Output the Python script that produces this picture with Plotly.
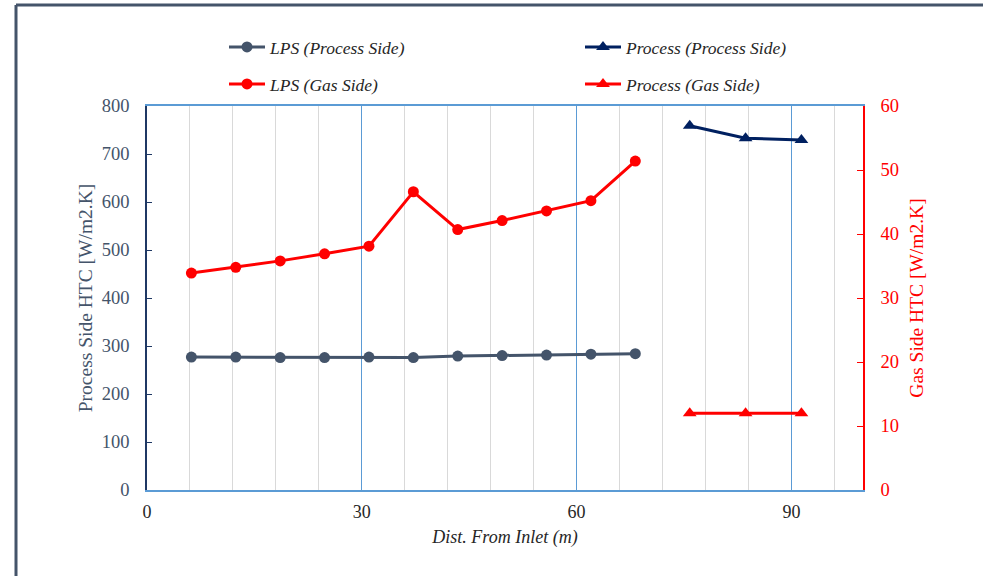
import plotly.graph_objects as go

# ---- data ----
lps_x = [6.2, 12.4, 18.6, 24.8, 31.0, 37.2, 43.4, 49.6, 55.8, 62.0, 68.2]
lps_process_htc = [277, 277, 276, 276, 277, 276, 279, 280, 281, 283, 284]
lps_gas_htc = [33.9, 34.8, 35.8, 36.9, 38.1, 46.6, 40.7, 42.1, 43.6, 45.2, 51.4]

proc_x = [75.8, 83.6, 91.4]
proc_process_htc = [759, 733, 729]
proc_gas_htc = [12.0, 12.0, 12.0]

x_ticks = [0, 30, 60, 90]
y1_ticks = [0, 100, 200, 300, 400, 500, 600, 700, 800]
y2_ticks = [0, 10, 20, 30, 40, 50, 60]

FONT = "Liberation Serif"
SLATE = "#44546A"
NAVY = "#002060"
RED = "#FF0000"
TXT = "#262626"

fig = go.Figure()
fig.add_trace(go.Scatter(x=lps_x, y=lps_process_htc, name="LPS (Process Side)",
                         mode="lines+markers", line=dict(color=SLATE, width=3),
                         marker=dict(symbol="circle", size=11, color=SLATE),
                         yaxis="y", legend="legend"))
fig.add_trace(go.Scatter(x=proc_x, y=proc_process_htc, name="Process (Process Side)",
                         mode="lines+markers", line=dict(color=NAVY, width=3),
                         marker=dict(symbol="triangle-up", size=12, color=NAVY),
                         yaxis="y", legend="legend2"))
fig.add_trace(go.Scatter(x=lps_x, y=lps_gas_htc, name="LPS (Gas Side)",
                         mode="lines+markers", line=dict(color=RED, width=3),
                         marker=dict(symbol="circle", size=11, color=RED),
                         yaxis="y2", legend="legend3"))
fig.add_trace(go.Scatter(x=proc_x, y=proc_gas_htc, name="Process (Gas Side)",
                         mode="lines+markers", line=dict(color=RED, width=3),
                         marker=dict(symbol="triangle-up", size=12, color=RED),
                         yaxis="y2", legend="legend4"))

PW, PH = 983 - 147 - 120, 576 - 106 - 86


def leg(px_x, px_y):
    return dict(orientation="h", xanchor="left", yanchor="middle",
                x=(px_x - 147) / PW, y=(490 - px_y) / PH,
                font=dict(family=FONT, size=17.5, color=TXT, style="italic"),
                itemwidth=36, bgcolor="rgba(0,0,0,0)",
                itemclick=False, itemdoubleclick=False)


fig.update_layout(
    width=983, height=576,
    margin=dict(l=147, r=120, t=106, b=86),
    paper_bgcolor="white", plot_bgcolor="white",
    showlegend=True,
    legend=leg(224, 47),
    legend2=leg(580, 47),
    legend3=leg(224, 84),
    legend4=leg(580, 84),
    xaxis=dict(range=[0, 100], tickvals=x_ticks, ticks="",
               showgrid=True, gridcolor="#5B9BD5", gridwidth=1,
               minor=dict(dtick=6, tick0=0, showgrid=True, gridcolor="#D9D9D9", gridwidth=1),
               showline=True, linecolor="#5B9BD5", linewidth=2, mirror=True,
               zeroline=False, ticklabelstandoff=4,
               tickfont=dict(family=FONT, size=18, color=TXT),
               title=dict(text="Dist. From Inlet (m)", standoff=10,
                          font=dict(family=FONT, size=18, color=TXT, style="italic"))),
    yaxis=dict(range=[0, 800], tickvals=y1_ticks, showgrid=False, zeroline=False,
               showline=True, linecolor="#1F3864", linewidth=1.5,
               ticks="inside", ticklen=5, tickcolor="#1F3864",
               ticklabelstandoff=12,
               tickfont=dict(family=FONT, size=18.5, color=SLATE),
               title=dict(text="Process Side HTC [W/m2.K]", standoff=4,
                          font=dict(family=FONT, size=19.5, color=SLATE))),
    yaxis2=dict(range=[0, 60], tickvals=y2_ticks, overlaying="y", side="right",
                showgrid=False, zeroline=False,
                showline=True, linecolor=RED, linewidth=1.5,
                ticks="inside", ticklen=6, tickcolor=RED,
                ticklabelstandoff=12,
                tickfont=dict(family=FONT, size=18.5, color=RED),
                title=dict(text="Gas Side HTC [W/m2.K]", standoff=11,
                           font=dict(family=FONT, size=19.5, color=RED))),
)

# outer chart frame (partially visible in the reference)
fx = (16 - 147) / PW
fy = (490 - 5) / PH
fig.add_shape(type="line", xref="paper", yref="paper", x0=fx, x1=1.5, y0=fy, y1=fy,
              line=dict(color=SLATE, width=3))
fig.add_shape(type="line", xref="paper", yref="paper", x0=fx, x1=fx, y0=fy, y1=-0.5,
              line=dict(color=SLATE, width=3))

fig.write_html("out.html")
